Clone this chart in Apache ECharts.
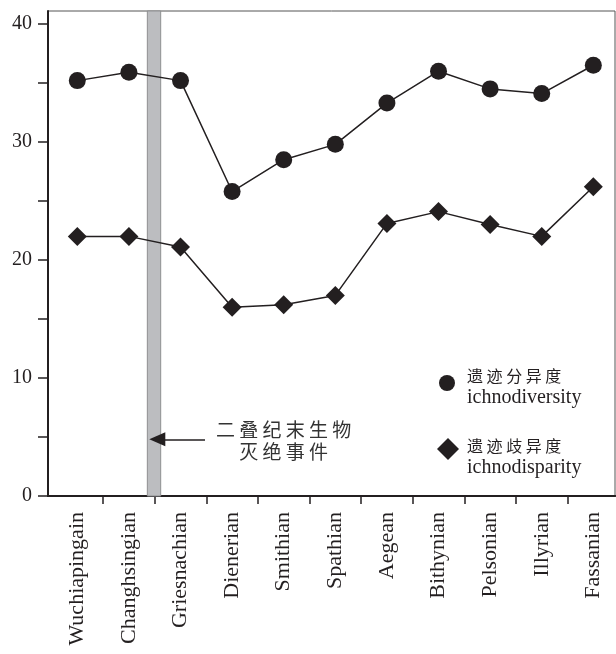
<!DOCTYPE html>
<html>
<head>
<meta charset="utf-8">
<script src="https://cdn.jsdelivr.net/npm/echarts@6/dist/echarts.min.js"></script>
<style>html,body{margin:0;padding:0;background:#fff;}#c{width:616px;height:654px;}</style>
</head>
<body>
<div id="c"></div>
<script>
const categories = ['Wuchiapingain','Changhsingian','Griesnachian','Dienerian','Smithian','Spathian','Aegean','Bithynian','Pelsonian','Illyrian','Fassanian'];
const ichnodiversity = [35.2, 35.9, 35.2, 25.8, 28.5, 29.8, 33.3, 36.0, 34.5, 34.1, 36.5];
const ichnodisparity = [22.0, 22.0, 21.1, 16.0, 16.2, 17.0, 23.1, 24.1, 23.0, 22.0, 26.2];
const yTickValues = [0, 5, 10, 15, 20, 25, 30, 35, 40];
const yLabelValues = [0, 10, 20, 30, 40];
const eventBand = [1.357, 1.616];          // end-Permian extinction band (category units)
const arrowFrom = [2.475, 4.8];
const arrowTo = [1.55, 4.8];
const eventText = '二 叠 纪 末 生 物\n灭 绝 事 件';
const eventTextAt = [4.0, 4.68];

const INK = '#231f20';
const catIdx = categories.map((_, i) => i);
const tickBetween = categories.slice(1).map((_, i) => i + 0.5);

const chart = echarts.init(document.getElementById('c'), null, {renderer: 'canvas'});
chart.setOption({
  animation: false,
  backgroundColor: '#fff',
  grid: {left: 48, right: 1, top: 11, bottom: 158, show: true, borderColor: '#555', borderWidth: 1},
  xAxis: [{
    type: 'value', min: -0.568, max: 10.42,
    axisLine: {show: true, onZero: false, lineStyle: {color: INK, width: 2}},
    axisTick: {show: true, length: 8, customValues: tickBetween, lineStyle: {color: INK, width: 1.5}},
    axisLabel: {
      customValues: catIdx, rotate: 90, margin: 16,
      formatter: v => categories[Math.round(v)],
      fontFamily: '"Liberation Serif", "Times New Roman", serif', fontSize: 22, color: INK
    },
    splitLine: {show: false}
  }, {
    type: 'value', position: 'top', min: -0.568, max: 10.42,
    axisLine: {show: true, lineStyle: {color: INK, width: 2}},
    axisTick: {show: false}, axisLabel: {show: false}, splitLine: {show: false}
  }],
  yAxis: {
    type: 'value', min: 0, max: 41.1,
    axisLine: {show: true, onZero: false, lineStyle: {color: INK, width: 2}},
    axisTick: {show: true, length: 10, customValues: yTickValues, lineStyle: {color: INK, width: 1.5}},
    axisLabel: {
      customValues: yLabelValues, margin: 16,
      fontFamily: '"Liberation Serif", "Times New Roman", serif', fontSize: 20, color: INK
    },
    splitLine: {show: false}
  },
  legend: [{
    data: [{name: '遗迹分异度', icon: 'circle'}],
    left: 439, top: 368, padding: 0, itemWidth: 16, itemHeight: 16,
    formatter: n => '{a|' + n.split('').join(' ') + '}\n{b|ichnodiversity}',
    textStyle: {
      color: INK,
      rich: {
        a: {fontFamily: '"Noto Sans CJK SC", sans-serif', fontSize: 16, lineHeight: 30, padding: [0, 0, 0, 7], color: INK},
        b: {fontFamily: '"Liberation Serif", serif', fontSize: 20, lineHeight: 14, padding: [0, 0, 0, 7], color: INK}
      }
    },
    itemStyle: {color: INK}
  }, {
    data: [{name: '遗迹歧异度', icon: 'diamond'}],
    left: 437, top: 438, padding: 0, itemWidth: 22, itemHeight: 22,
    formatter: n => '{a|' + n.split('').join(' ') + '}\n{b|ichnodisparity}',
    textStyle: {
      color: INK,
      rich: {
        a: {fontFamily: '"Noto Sans CJK SC", sans-serif', fontSize: 16, lineHeight: 38, padding: [0, 0, 0, 3], color: INK},
        b: {fontFamily: '"Liberation Serif", serif', fontSize: 20, lineHeight: 6, padding: [0, 0, 0, 3], color: INK}
      }
    },
    itemStyle: {color: INK}
  }],
  series: [{
    type: 'line', name: 'band', data: [], z: 1, silent: true,
    markArea: {
      silent: true,
      itemStyle: {color: '#bcbdc0', borderColor: '#8e8f91', borderWidth: 1},
      data: [[{xAxis: eventBand[0]}, {xAxis: eventBand[1]}]]
    },
    markLine: {
      silent: true, symbol: ['none', 'triangle'], symbolSize: [14, 16],
      lineStyle: {color: INK, width: 1.5, type: 'solid'},
      itemStyle: {color: INK},
      label: {show: false},
      data: [[{coord: arrowFrom}, {coord: arrowTo}]]
    },
    markPoint: {
      silent: true, symbol: 'rect', symbolSize: 1,
      itemStyle: {color: 'rgba(0,0,0,0)'},
      label: {
        show: true, position: 'inside', formatter: eventText,
        fontFamily: '"Noto Sans CJK SC", sans-serif', fontSize: 19, lineHeight: 22,
        color: '#333', align: 'center'
      },
      data: [{coord: eventTextAt}]
    }
  }, {
    type: 'line', name: '遗迹分异度', z: 3,
    data: ichnodiversity.map((v, i) => [i, v]),
    symbol: 'circle', symbolSize: 17,
    itemStyle: {color: INK},
    lineStyle: {color: INK, width: 1.5}
  }, {
    type: 'line', name: '遗迹歧异度', z: 3,
    data: ichnodisparity.map((v, i) => [i, v]),
    symbol: 'diamond', symbolSize: 19,
    itemStyle: {color: INK},
    lineStyle: {color: INK, width: 1.5}
  }]
});
</script>
</body>
</html>
